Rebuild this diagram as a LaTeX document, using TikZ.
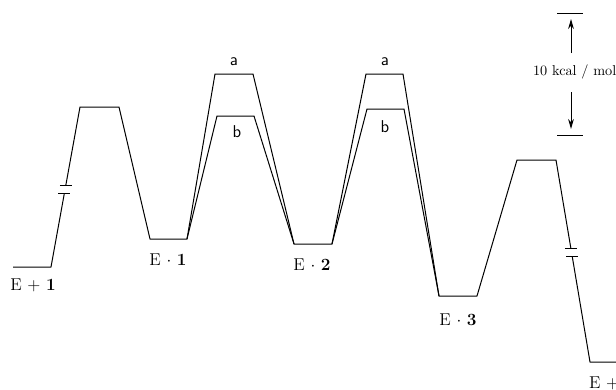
\documentclass[tikz,border=0pt]{standalone}
\usepackage{tikz}
\usetikzlibrary{arrows.meta, calc}

\begin{document}
\begin{tikzpicture}[x=0.7pt, y=-0.7pt, line join=round,
    prof/.style={line width=0.7pt},
    brk/.style={line width=0.7pt},
    lvl/.style={font=\large},
    tag/.style={font=\large\sffamily}]
  \useasboundingbox (0,0) rectangle (616,390);
  \clip (0,0) rectangle (616,390);

  % minima and maxima
  \coordinate (s0) at (13,267);  \coordinate (s1) at (51,267);
  \coordinate (t0) at (80,107);  \coordinate (t1) at (119,107);
  \coordinate (c0) at (150,239); \coordinate (c1) at (187,239);
  \coordinate (a0) at (215,74);  \coordinate (a1) at (253,74);
  \coordinate (b0) at (217,116); \coordinate (b1) at (254,116);
  \coordinate (d0) at (294,244); \coordinate (d1) at (332,244);
  \coordinate (e0) at (366,74);  \coordinate (e1) at (403,74);
  \coordinate (f0) at (367,109); \coordinate (f1) at (404,109);
  \coordinate (g0) at (439,296); \coordinate (g1) at (477,296);
  \coordinate (h0) at (517,160); \coordinate (h1) at (556,160);
  \coordinate (k0) at (590,362); \coordinate (k1) at (620,362);

  % gaps on the long steps
  \coordinate (p0) at ($(s1)!0.46!(t0)$);
  \coordinate (p1) at ($(s1)!0.51!(t0)$);
  \coordinate (q0) at ($(h1)!0.44!(k0)$);
  \coordinate (q1) at ($(h1)!0.48!(k0)$);

  \draw[prof] (s0) -- (s1) -- (p0);
  \draw[prof] (p1) -- (t0) -- (t1) -- (c0) -- (c1)
              -- (a0) -- (a1) -- (d0) -- (d1)
              -- (e0) -- (e1) -- (g0) -- (g1)
              -- (h0) -- (h1) -- (q0);
  \draw[prof] (q1) -- (k0) -- (k1);
  % path b
  \draw[prof] (c1) -- (b0) -- (b1) -- (d0);
  \draw[prof] (d1) -- (f0) -- (f1) -- (g0);

  \draw[brk] ($(p0)+(-6,0)$) -- ($(p0)+(6,0)$);
  \draw[brk] ($(p1)+(-6,0)$) -- ($(p1)+(6,0)$);
  \draw[brk] ($(q0)+(-6,0)$) -- ($(q0)+(6,0)$);
  \draw[brk] ($(q1)+(-6,0)$) -- ($(q1)+(6,0)$);

  \node[lvl] (n0) at (33,285) {E + \textbf{1}};
  \node[lvl] (n1) at (168,260) {E $\cdot$ \textbf{1}};
  \node[lvl] (n2) at (312,265) {E $\cdot$ \textbf{2}};
  \node[lvl] (n3) at (458,320) {E $\cdot$ \textbf{3}};
  \node[lvl, anchor=west] (n4) at (584,383) {E +};

  \node[tag] (ta1) at (234,62) {a};
  \node[tag] (tb1) at (237,132) {b};
  \node[tag] (ta2) at (385,62) {a};
  \node[tag] (tb2) at (385,127) {b};

  % 10 kcal/mol scale
  \coordinate (u0) at (557,13);  \coordinate (u1) at (583,13);
  \coordinate (w0) at (557,135); \coordinate (w1) at (583,135);
  \draw[prof] (u0) -- (u1);
  \draw[prof] (w0) -- (w1);
  \node[font=\normalsize, anchor=west] (sc) at (528,72) {10 kcal / mol};
  \draw[prof, -{Stealth[length=7pt, width=4pt]}] (571,53) -- (571,19);
  \draw[prof, -{Stealth[length=7pt, width=4pt]}] (571,92) -- (571,129);
\end{tikzpicture}
\end{document}
